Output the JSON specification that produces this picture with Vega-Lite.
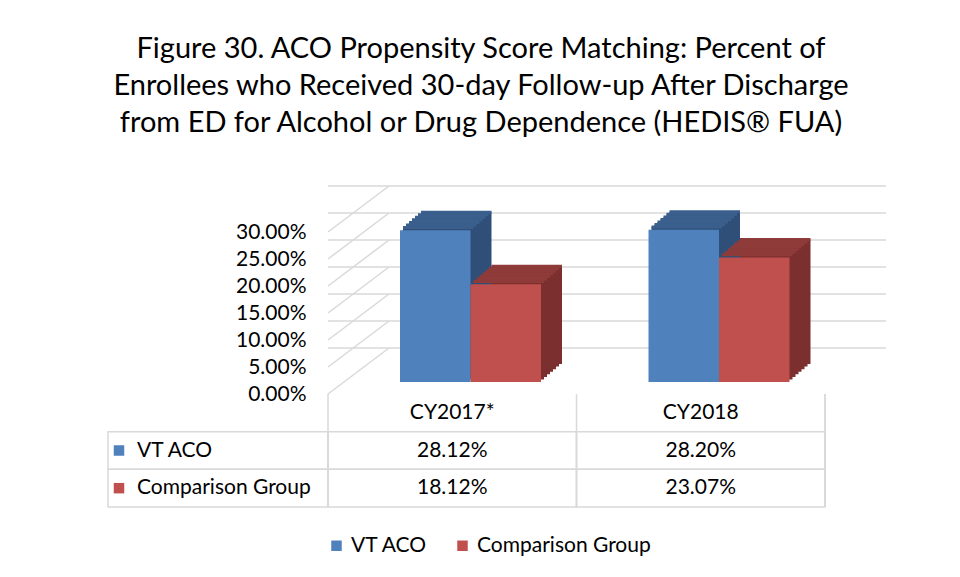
{
  "$schema": "https://vega.github.io/schema/vega-lite/v6.json",
  "background": "white",
  "padding": {"left": 107, "top": 35, "right": 10, "bottom": 80},
  "bounds": "flush",
  "title": {
    "text": ["Figure 30. ACO Propensity Score Matching: Percent of", "Enrollees who Received 30-day Follow-up After Discharge", "from ED for Alcohol or Drug Dependence  (HEDIS® FUA)"],
    "font": "Lato", "fontSize": 29, "fontWeight": "normal", "lineHeight": 37, "color": "#000000",
    "anchor": "middle", "offset": 47, "dx": -16
  },
  "datasets": {
    "bars": [
      {"year": "CY2017*", "series": "VT ACO", "value": 0.2812},
      {"year": "CY2017*", "series": "Comparison Group", "value": 0.1812},
      {"year": "CY2018", "series": "VT ACO", "value": 0.2820},
      {"year": "CY2018", "series": "Comparison Group", "value": 0.2307}
    ],
    "ticks": [{"value": 0}, {"value": 0.05}, {"value": 0.10}, {"value": 0.15}, {"value": 0.20}, {"value": 0.25}, {"value": 0.30}],
    "years": [{"year": "CY2017*"}, {"year": "CY2018"}],
    "rows": [{"series": "VT ACO"}, {"series": "Comparison Group"}]
  },
  "spacing": 0,
  "vconcat": [
    {
      "width": 497, "height": 162,
      "resolve": {"scale": {"xOffset": "independent"}},
      "encoding": {
        "y": {"field": "value", "type": "quantitative", "title": null,
          "scale": {"domain": [0, 0.3], "nice": false, "zero": true},
          "axis": {"format": ".2%", "values": [0, 0.05, 0.1, 0.15, 0.2, 0.25, 0.3], "ticks": false, "domain": false, "grid": false, "labelPadding": 22, "labelFontSize": 21, "labelFont": "Lato", "labelColor": "#000000"}
        }
      },
      "layer": [
        {
          "data": {"name": "ticks"},
          "mark": {"type": "rule", "color": "#d9d9d9", "strokeWidth": 1.5, "xOffset": 61, "x2Offset": 61, "yOffset": -46, "y2Offset": -46},
          "encoding": {}
        },
        {
          "data": {"name": "ticks"},
          "mark": {"type": "rule", "color": "#d9d9d9", "strokeWidth": 1.5, "x2Offset": -63.25, "y2Offset": -46},
          "encoding": {
            "x": {"datum": "CY2017*", "type": "nominal", "bandPosition": 0, "scale": {"domain": ["CY2017*", "CY2018"], "paddingInner": 0, "paddingOuter": 0}, "axis": null},
            "x2": {"datum": "CY2017*"},
            "y2": {"field": "value"}
          }
        },
        {"data": {"name": "bars"}, "mark": {"type": "bar", "yOffset": -14.6, "y2Offset": -14.6},
          "encoding": {"x": {"field": "year", "type": "nominal", "axis": null}, "xOffset": {"field": "series", "type": "nominal", "scale": {"domain": ["VT ACO", "Comparison Group"], "paddingInner": 0, "paddingOuter": 0, "range": [75, 216]}}, "fill": {"condition": {"test": "datum.series === 'VT ACO'", "value": "#2f4f79"}, "value": "#7b2f2e"}}},
        {"data": {"name": "bars"}, "mark": {"type": "bar", "yOffset": -17.1, "y2Offset": -17.1},
          "encoding": {"x": {"field": "year", "type": "nominal", "axis": null}, "xOffset": {"field": "series", "type": "nominal", "scale": {"domain": ["VT ACO", "Comparison Group"], "paddingInner": 0, "paddingOuter": 0, "range": [78, 219]}}, "fill": {"condition": {"test": "datum.series === 'VT ACO'", "value": "#2f4f79"}, "value": "#7b2f2e"}}},
        {"data": {"name": "bars"}, "mark": {"type": "bar", "yOffset": -19.7, "y2Offset": -19.7},
          "encoding": {"x": {"field": "year", "type": "nominal", "axis": null}, "xOffset": {"field": "series", "type": "nominal", "scale": {"domain": ["VT ACO", "Comparison Group"], "paddingInner": 0, "paddingOuter": 0, "range": [81, 222]}}, "fill": {"condition": {"test": "datum.series === 'VT ACO'", "value": "#2f4f79"}, "value": "#7b2f2e"}}},
        {"data": {"name": "bars"}, "mark": {"type": "bar", "yOffset": -22.3, "y2Offset": -22.3},
          "encoding": {"x": {"field": "year", "type": "nominal", "axis": null}, "xOffset": {"field": "series", "type": "nominal", "scale": {"domain": ["VT ACO", "Comparison Group"], "paddingInner": 0, "paddingOuter": 0, "range": [84, 225]}}, "fill": {"condition": {"test": "datum.series === 'VT ACO'", "value": "#2f4f79"}, "value": "#7b2f2e"}}},
        {"data": {"name": "bars"}, "mark": {"type": "bar", "yOffset": -24.8, "y2Offset": -24.8},
          "encoding": {"x": {"field": "year", "type": "nominal", "axis": null}, "xOffset": {"field": "series", "type": "nominal", "scale": {"domain": ["VT ACO", "Comparison Group"], "paddingInner": 0, "paddingOuter": 0, "range": [87, 228]}}, "fill": {"condition": {"test": "datum.series === 'VT ACO'", "value": "#2f4f79"}, "value": "#7b2f2e"}}},
        {"data": {"name": "bars"}, "mark": {"type": "bar", "yOffset": -27.4, "y2Offset": -27.4},
          "encoding": {"x": {"field": "year", "type": "nominal", "axis": null}, "xOffset": {"field": "series", "type": "nominal", "scale": {"domain": ["VT ACO", "Comparison Group"], "paddingInner": 0, "paddingOuter": 0, "range": [90, 231]}}, "fill": {"condition": {"test": "datum.series === 'VT ACO'", "value": "#2f4f79"}, "value": "#7b2f2e"}}},
        {"data": {"name": "bars"}, "mark": {"type": "bar", "yOffset": -30, "y2Offset": -30},
          "encoding": {"x": {"field": "year", "type": "nominal", "axis": null}, "xOffset": {"field": "series", "type": "nominal", "scale": {"domain": ["VT ACO", "Comparison Group"], "paddingInner": 0, "paddingOuter": 0, "range": [93, 234]}}, "fill": {"condition": {"test": "datum.series === 'VT ACO'", "value": "#2f4f79"}, "value": "#7b2f2e"}}},
        {"data": {"name": "bars"}, "mark": {"type": "bar", "fillOpacity": 0, "strokeWidth": 3, "yOffset": -14.6, "y2Offset": -14.6},
          "encoding": {"x": {"field": "year", "type": "nominal", "axis": null}, "xOffset": {"field": "series", "type": "nominal", "scale": {"domain": ["VT ACO", "Comparison Group"], "paddingInner": 0, "paddingOuter": 0, "range": [75, 216]}}, "y2": {"field": "value"}, "stroke": {"condition": {"test": "datum.series === 'VT ACO'", "value": "#3b5f8c"}, "value": "#8f3b39"}}},
        {"data": {"name": "bars"}, "mark": {"type": "bar", "fillOpacity": 0, "strokeWidth": 3, "yOffset": -17.1, "y2Offset": -17.1},
          "encoding": {"x": {"field": "year", "type": "nominal", "axis": null}, "xOffset": {"field": "series", "type": "nominal", "scale": {"domain": ["VT ACO", "Comparison Group"], "paddingInner": 0, "paddingOuter": 0, "range": [78, 219]}}, "y2": {"field": "value"}, "stroke": {"condition": {"test": "datum.series === 'VT ACO'", "value": "#3b5f8c"}, "value": "#8f3b39"}}},
        {"data": {"name": "bars"}, "mark": {"type": "bar", "fillOpacity": 0, "strokeWidth": 3, "yOffset": -19.7, "y2Offset": -19.7},
          "encoding": {"x": {"field": "year", "type": "nominal", "axis": null}, "xOffset": {"field": "series", "type": "nominal", "scale": {"domain": ["VT ACO", "Comparison Group"], "paddingInner": 0, "paddingOuter": 0, "range": [81, 222]}}, "y2": {"field": "value"}, "stroke": {"condition": {"test": "datum.series === 'VT ACO'", "value": "#3b5f8c"}, "value": "#8f3b39"}}},
        {"data": {"name": "bars"}, "mark": {"type": "bar", "fillOpacity": 0, "strokeWidth": 3, "yOffset": -22.3, "y2Offset": -22.3},
          "encoding": {"x": {"field": "year", "type": "nominal", "axis": null}, "xOffset": {"field": "series", "type": "nominal", "scale": {"domain": ["VT ACO", "Comparison Group"], "paddingInner": 0, "paddingOuter": 0, "range": [84, 225]}}, "y2": {"field": "value"}, "stroke": {"condition": {"test": "datum.series === 'VT ACO'", "value": "#3b5f8c"}, "value": "#8f3b39"}}},
        {"data": {"name": "bars"}, "mark": {"type": "bar", "fillOpacity": 0, "strokeWidth": 3, "yOffset": -24.8, "y2Offset": -24.8},
          "encoding": {"x": {"field": "year", "type": "nominal", "axis": null}, "xOffset": {"field": "series", "type": "nominal", "scale": {"domain": ["VT ACO", "Comparison Group"], "paddingInner": 0, "paddingOuter": 0, "range": [87, 228]}}, "y2": {"field": "value"}, "stroke": {"condition": {"test": "datum.series === 'VT ACO'", "value": "#3b5f8c"}, "value": "#8f3b39"}}},
        {"data": {"name": "bars"}, "mark": {"type": "bar", "fillOpacity": 0, "strokeWidth": 3, "yOffset": -27.4, "y2Offset": -27.4},
          "encoding": {"x": {"field": "year", "type": "nominal", "axis": null}, "xOffset": {"field": "series", "type": "nominal", "scale": {"domain": ["VT ACO", "Comparison Group"], "paddingInner": 0, "paddingOuter": 0, "range": [90, 231]}}, "y2": {"field": "value"}, "stroke": {"condition": {"test": "datum.series === 'VT ACO'", "value": "#3b5f8c"}, "value": "#8f3b39"}}},
        {"data": {"name": "bars"}, "mark": {"type": "bar", "fillOpacity": 0, "strokeWidth": 3, "yOffset": -30, "y2Offset": -30},
          "encoding": {"x": {"field": "year", "type": "nominal", "axis": null}, "xOffset": {"field": "series", "type": "nominal", "scale": {"domain": ["VT ACO", "Comparison Group"], "paddingInner": 0, "paddingOuter": 0, "range": [93, 234]}}, "y2": {"field": "value"}, "stroke": {"condition": {"test": "datum.series === 'VT ACO'", "value": "#3b5f8c"}, "value": "#8f3b39"}}},
        {"data": {"name": "bars"}, "mark": {"type": "bar", "yOffset": -12, "y2Offset": -12},
          "encoding": {"x": {"field": "year", "type": "nominal", "axis": null}, "xOffset": {"field": "series", "type": "nominal", "scale": {"domain": ["VT ACO", "Comparison Group"], "paddingInner": 0, "paddingOuter": 0, "range": [72, 213]}},
            "color": {"field": "series", "type": "nominal", "title": null, "scale": {"domain": ["VT ACO", "Comparison Group"], "range": ["#4f81bd", "#c0504d"]}}}}
      ]
    },
    {
      "width": 497, "height": 113,
      "layer": [
        {"data": {"name": "years"}, "mark": {"type": "rule", "color": "#d9d9d9", "strokeWidth": 1.5},
          "encoding": {"x": {"field": "year", "type": "nominal", "bandPosition": 0, "scale": {"domain": ["CY2017*", "CY2018"], "paddingInner": 0, "paddingOuter": 0}, "axis": null}}},
        {"data": {"name": "years"}, "mark": {"type": "rule", "color": "#d9d9d9", "strokeWidth": 1.5},
          "encoding": {"x": {"datum": "CY2018", "type": "nominal", "bandPosition": 1}}},
        {"data": {"name": "bars"}, "mark": {"type": "bar", "fillOpacity": 0, "stroke": "#d9d9d9", "strokeWidth": 1.5},
          "encoding": {"x": {"field": "year", "type": "nominal"}, "y": {"field": "series", "type": "nominal", "scale": {"domain": ["header", "VT ACO", "Comparison Group"], "paddingInner": 0, "paddingOuter": 0}, "axis": null}}},
        {"data": {"name": "rows"}, "mark": {"type": "bar", "fillOpacity": 0, "stroke": "#d9d9d9", "strokeWidth": 1.5, "width": 220, "xOffset": -234.25},
          "encoding": {"x": {"datum": "CY2017*", "type": "nominal"}, "y": {"field": "series", "type": "nominal"}}},
        {"data": {"name": "years"}, "mark": {"type": "text", "font": "Lato", "fontSize": 21, "color": "#000000"},
          "encoding": {"x": {"field": "year", "type": "nominal"}, "y": {"datum": "header", "type": "nominal"}, "text": {"field": "year"}}},
        {"data": {"name": "bars"}, "mark": {"type": "text", "font": "Lato", "fontSize": 21, "color": "#000000"},
          "encoding": {"x": {"field": "year", "type": "nominal"}, "y": {"field": "series", "type": "nominal"}, "text": {"field": "value", "type": "quantitative", "format": ".2%"}}},
        {"data": {"name": "rows"}, "mark": {"type": "text", "font": "Lato", "fontSize": 21, "color": "#000000", "align": "left", "dx": -191},
          "encoding": {"x": {"datum": "CY2017*", "type": "nominal", "bandPosition": 0}, "y": {"field": "series", "type": "nominal"}, "text": {"field": "series"}}},
        {"data": {"name": "rows"}, "mark": {"type": "point", "shape": "square", "filled": true, "opacity": 1, "size": 110, "xOffset": -209},
          "encoding": {"x": {"datum": "CY2017*", "type": "nominal", "bandPosition": 0}, "y": {"field": "series", "type": "nominal"}, "color": {"field": "series", "type": "nominal", "title": null}}}
      ]
    }
  ],
  "config": {
    "view": {"stroke": null},
    "font": "Lato",
    "legend": {"orient": "none", "direction": "horizontal", "legendX": -2, "legendY": 303, "symbolType": "square", "symbolSize": 110, "symbolStrokeWidth": 0, "symbolOpacity": 1, "labelFont": "Lato", "labelFontSize": 21, "labelColor": "#000000", "labelLimit": 0, "columnPadding": 24, "labelOffset": 4}
  }
}
